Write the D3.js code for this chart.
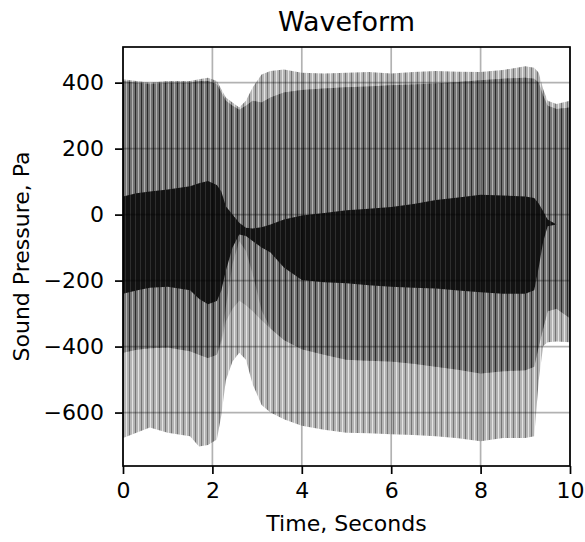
<!DOCTYPE html>
<html>
<head>
<meta charset="utf-8">
<script src="https://cdn.jsdelivr.net/npm/d3@7"></script>
<style>
  body { margin: 0; background: #fff; }
  text { font-family: "DejaVu Sans", sans-serif; }
</style>
</head>
<body>
<div id="plot"></div>
<script>
// envelope of the waveform (seconds / Pa)
var times    = [0, 0.3, 0.6, 1.0, 1.5, 1.7, 1.9, 2.1, 2.2, 2.3, 2.45, 2.6, 2.75, 2.9, 3.1, 3.3, 3.6, 4.0, 4.5, 5.0, 5.5, 6.0, 6.5, 7.0, 7.5, 8.0, 8.5, 9.0, 9.2, 9.3, 9.4, 9.5, 9.7, 10.0];
var lightHi  = [410, 405, 400, 405, 405, 410, 415, 405, 380, 355, 340, 325, 345, 385, 425, 435, 440, 430, 428, 430, 432, 428, 432, 435, 433, 432, 438, 450, 445, 430, 380, 345, 335, 345];
var midHi    = [405, 400, 395, 400, 400, 405, 405, 395, 370, 345, 330, 318, 330, 345, 340, 355, 370, 378, 382, 386, 388, 392, 394, 397, 402, 407, 412, 415, 412, 400, 360, 330, 320, 325];
var darkHi   = [55, 65, 70, 76, 86, 95, 102, 90, 70, 25, 0, -25, -40, -42, -38, -30, -15, -3, 5, 13, 18, 23, 32, 44, 52, 60, 58, 55, 50, 34, 10, -15, -30, -30];
var darkLo   = [-240, -230, -222, -219, -229, -255, -272, -262, -230, -170, -100, -60, -65, -80, -100, -115, -160, -198, -205, -208, -214, -219, -222, -224, -230, -235, -240, -240, -229, -160, -82, -35, -30, -30];
var midLo    = [-419, -410, -405, -403, -414, -425, -435, -425, -380, -280, -150, -80, -110, -180, -290, -345, -380, -408, -425, -440, -443, -445, -452, -461, -470, -482, -475, -472, -461, -400, -345, -293, -285, -314];
var softLo   = [-419, -410, -405, -403, -414, -425, -435, -425, -390, -324, -285, -261, -275, -293, -320, -345, -380, -408, -425, -440, -443, -445, -452, -461, -470, -482, -475, -472, -461, -400, -345, -293, -285, -314];
var lightLo  = [-677, -661, -645, -661, -672, -703, -698, -682, -608, -503, -445, -419, -440, -514, -577, -600, -620, -640, -652, -661, -663, -666, -668, -672, -678, -687, -677, -677, -672, -503, -398, -387, -385, -387];

var xTicks = [0, 2, 4, 6, 8, 10];
var yTicks = [-600, -400, -200, 0, 200, 400];

var width = 585, height = 542;
var pLeft = 123, pRight = 570, pTop = 47, pBottom = 466;

var svg = d3.select("#plot").append("svg")
    .attr("width", width)
    .attr("height", height);

var xScale = d3.scaleLinear().domain([0, 10]).range([pLeft, pRight]);
var yScale = d3.scaleLinear().domain([-762, 508]).range([pBottom, pTop]);

// stripe patterns to mimic the dense vertical lines
var defs = svg.append("defs");
var stripes = function(id, w, base, lines){
    var p = defs.append("pattern")
        .attr("id", id)
        .attr("patternUnits", "userSpaceOnUse")
        .attr("x", pLeft).attr("y", 0)
        .attr("width", w).attr("height", 10);
    p.append("rect").attr("width", w).attr("height", 10).attr("fill", base);
    lines.forEach(function(l){
        p.append("rect").attr("x", l[0]).attr("width", 1).attr("height", 10).attr("fill", l[1]);
    });
};
stripes("pLight", 6, "#b4b4b4", [[0, "#767676"], [3, "#e4e4e4"]]);
stripes("pSoft", 6, "#969696", [[0, "#505050"], [3, "#c4c4c4"]]);
stripes("pMid", 6, "#737373", [[0, "#2a2a2a"], [3, "#b2b2b2"]]);
stripes("pDark", 5, "#121212", [[2, "#2e2e2e"]]);

defs.append("clipPath").attr("id", "clip")
    .append("rect").attr("x", pLeft).attr("y", pTop)
    .attr("width", pRight - pLeft).attr("height", pBottom - pTop);

var band = function(lo, hi){
    return d3.area()
        .x(function(d, i){ return xScale(times[i]); })
        .y0(function(d, i){ return yScale(lo[i]); })
        .y1(function(d, i){ return yScale(hi[i]); })(times);
};

var g = svg.append("g").attr("clip-path", "url(#clip)");
g.append("path").attr("d", band(lightLo, lightHi)).attr("fill", "url(#pLight)");
g.append("path").attr("d", band(softLo, midHi)).attr("fill", "url(#pSoft)");
g.append("path").attr("d", band(midLo, midHi)).attr("fill", "url(#pMid)");
g.append("path").attr("d", band(darkLo, darkHi)).attr("fill", "url(#pDark)");

// grid
svg.selectAll(".vgrid").data(xTicks).enter().append("line")
    .attr("x1", d => xScale(d)).attr("x2", d => xScale(d))
    .attr("y1", pTop).attr("y2", pBottom)
    .attr("stroke", "#000").attr("stroke-opacity", 0.3).attr("stroke-width", 1.7);
svg.selectAll(".hgrid").data(yTicks).enter().append("line")
    .attr("x1", pLeft).attr("x2", pRight)
    .attr("y1", d => yScale(d)).attr("y2", d => yScale(d))
    .attr("stroke", "#000").attr("stroke-opacity", 0.3).attr("stroke-width", 1.7);

// axes
var xAxis = d3.axisBottom(xScale).tickValues(xTicks).tickSize(8).tickPadding(8).tickFormat(d3.format("d"));
var yAxis = d3.axisLeft(yScale).tickValues(yTicks).tickSize(8).tickPadding(11);

svg.append("g").attr("transform", "translate(0," + pBottom + ")").call(xAxis)
    .call(a => a.select(".domain").remove())
    .call(a => a.selectAll("line").attr("stroke-width", 1.7))
    .call(a => a.selectAll("text").attr("font-size", 22).attr("font-family", "DejaVu Sans").attr("fill", "#000"));
svg.append("g").attr("transform", "translate(" + pLeft + ",0)").call(yAxis)
    .call(a => a.select(".domain").remove())
    .call(a => a.selectAll("line").attr("stroke-width", 1.7))
    .call(a => a.selectAll("text").attr("font-size", 22).attr("font-family", "DejaVu Sans").attr("fill", "#000"));

svg.append("rect")
    .attr("x", pLeft).attr("y", pTop)
    .attr("width", pRight - pLeft).attr("height", pBottom - pTop)
    .attr("fill", "none").attr("stroke", "#000").attr("stroke-width", 1.7);

// labels
svg.append("text").attr("x", (pLeft + pRight) / 2).attr("y", 31)
    .attr("text-anchor", "middle").attr("font-size", 27).text("Waveform");
svg.append("text").attr("x", (pLeft + pRight) / 2).attr("y", 531)
    .attr("text-anchor", "middle").attr("font-size", 22).text("Time, Seconds");
svg.append("text")
    .attr("transform", "translate(29," + (pTop + pBottom) / 2 + ") rotate(-90)")
    .attr("text-anchor", "middle").attr("font-size", 22).text("Sound Pressure, Pa");
</script>
</body>
</html>
